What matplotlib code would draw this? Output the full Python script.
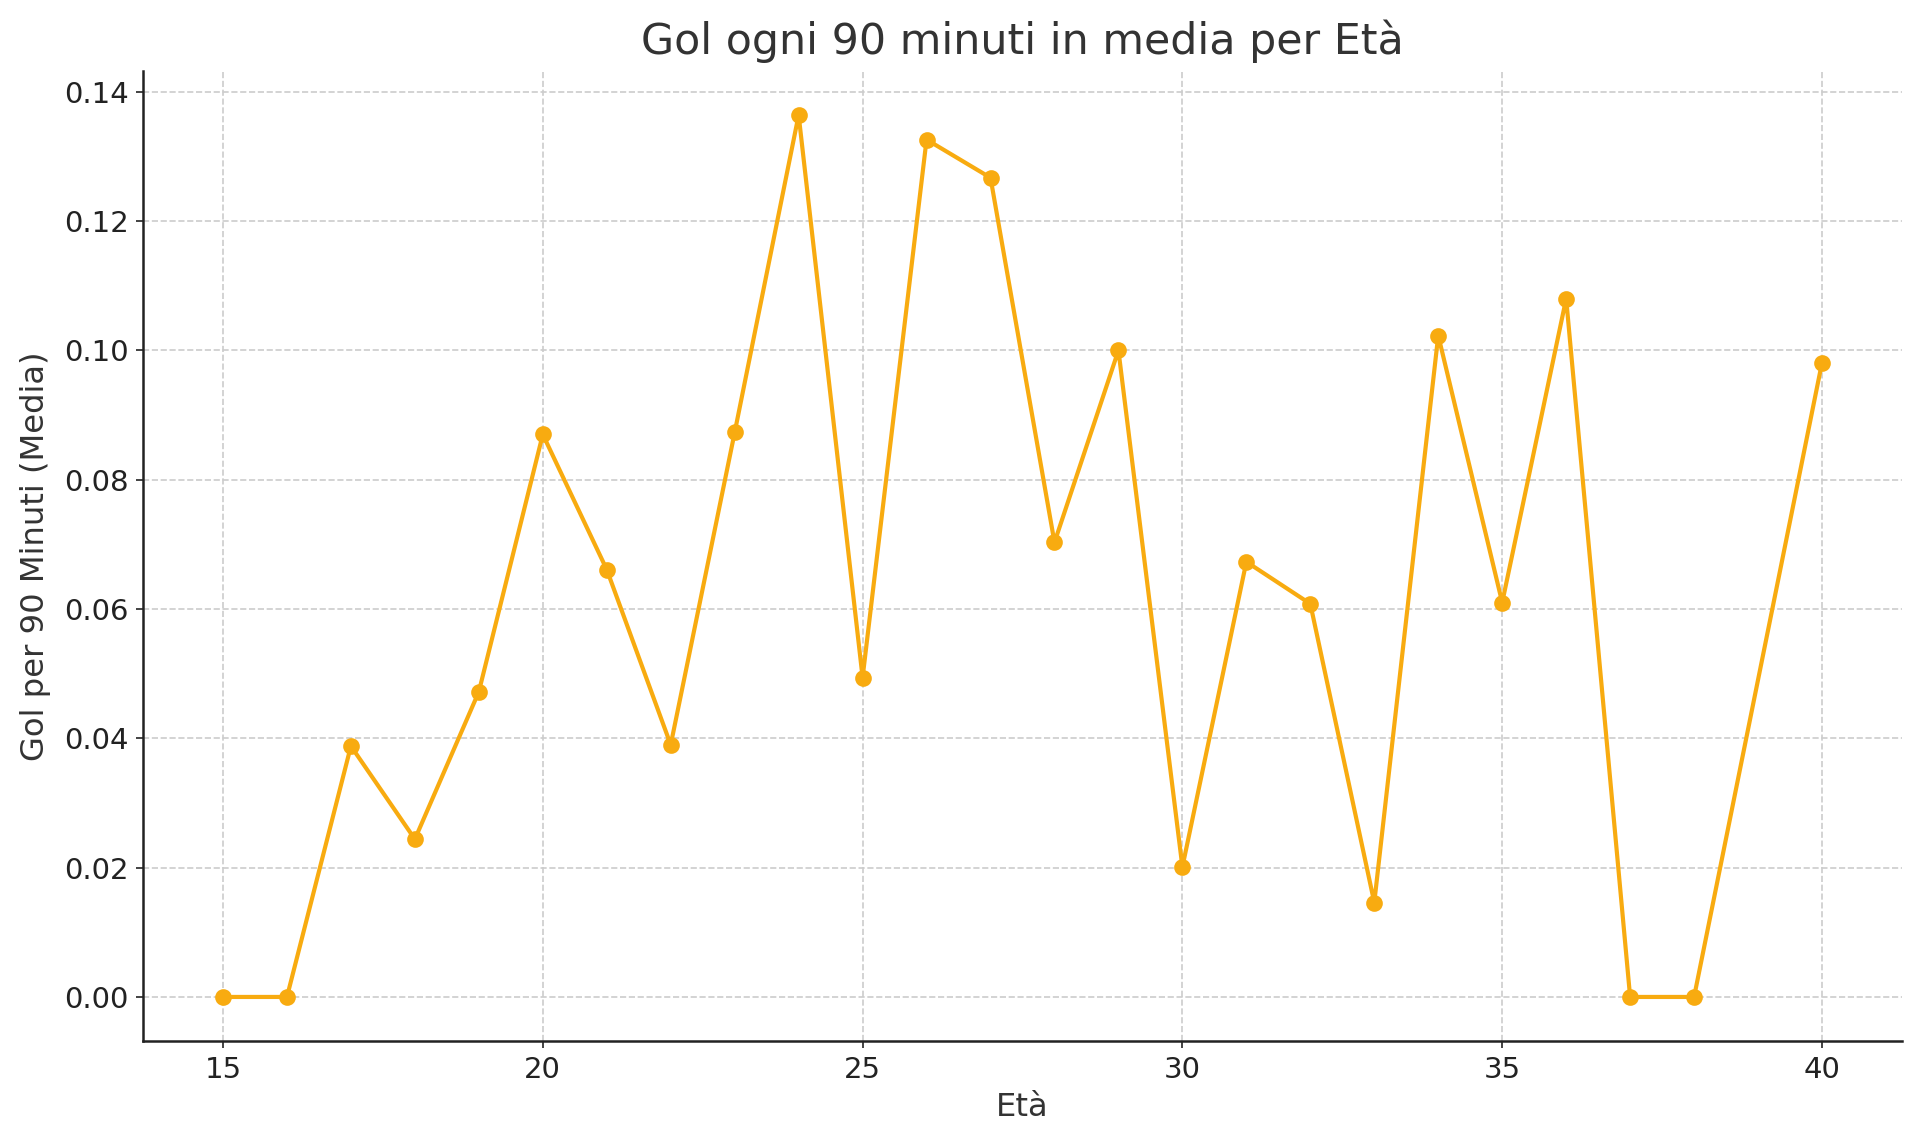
import matplotlib
matplotlib.use("Agg")
import matplotlib.pyplot as plt

# eta' e gol ogni 90 minuti (media)
eta = [15, 16, 17, 18, 19, 20, 21, 22, 23, 24, 25, 26, 27, 28, 29, 30,
       31, 32, 33, 34, 35, 36, 37, 38, 40]
gol_90 = [0.0, 0.0, 0.0388, 0.0244, 0.0472, 0.0870, 0.0661, 0.0390, 0.0873,
          0.1364, 0.0494, 0.1326, 0.1267, 0.0703, 0.1000, 0.0201, 0.0673,
          0.0608, 0.0146, 0.1023, 0.0610, 0.1080, 0.0, 0.0, 0.0981]

fig, ax = plt.subplots(figsize=(12.8, 1144 / 150), dpi=150)
fig.subplots_adjust(left=0.0745, right=0.9906, top=0.938, bottom=0.09)

ax.plot(eta, gol_90, marker='o', color='#f8ab10', linewidth=2, markersize=7)

ax.set_title('Gol ogni 90 minuti in media per Età', fontsize=20.5, color='#333333', pad=8)
ax.set_xlabel('Età', fontsize=15.5, color='#333333')
ax.set_ylabel('Gol per 90 Minuti (Media)', fontsize=15.5, color='#333333', labelpad=6)
ax.tick_params(labelsize=14, colors='#222222')

ax.grid(True, linestyle='--', color='#cccccc', linewidth=0.8)
ax.spines['top'].set_visible(False)
ax.spines['right'].set_visible(False)
for s in ['left', 'bottom']:
    ax.spines[s].set_linewidth(1.2)
    ax.spines[s].set_color('#222222')

fig.savefig('out.png', dpi=150)
